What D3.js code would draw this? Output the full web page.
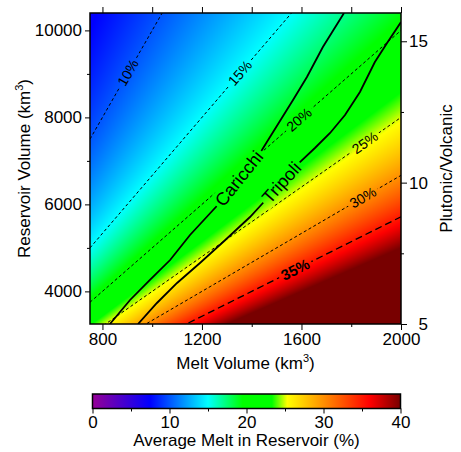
<!DOCTYPE html>
<html>
<head>
<meta charset="utf-8">
<script src="https://cdn.jsdelivr.net/npm/d3@7"></script>
<style>
  body { margin: 0; background: #fff; }
  text { font-family: "Liberation Sans", Arial, Helvetica, sans-serif; fill: #000; }
</style>
</head>
<body>
<div id="chart"></div>
<script>
// colour table for average melt in reservoir (%)
var colorStops = [0, 7.5, 15, 19.5, 23.3, 25.3, 36, 40];
var colorList = ["#960096", "#0000ff", "#00ffff", "#00ff00", "#00ff00", "#ffff00", "#ff0000", "#780000"];

// melt fraction contours and where their labels sit (melt volume)
var contourLevels = [10, 15, 20, 25, 30, 35];
var contourLabelMelt = [903, 1353, 1590, 1855, 1847, 1575];

// model paths: melt volume vs reservoir volume (km3)
var caricchiMelt = [830, 911, 991, 1072, 1152, 1256, 1441, 1566, 1622, 1686, 1771];
var caricchiRes  = [3250, 3802, 4262, 4721, 5296, 5940, 7250, 8400, 8929, 9618, 10400];
var tripoliMelt  = [943, 1019, 1100, 1192, 1285, 1393, 1445, 1594, 1654, 1715, 1775, 1835, 1895, 1944, 2000];
var tripoliRes   = [3250, 3733, 4193, 4652, 5135, 5710, 6032, 6974, 7296, 7641, 8055, 8584, 9273, 9710, 10193];
var caricchiLabelAt = 5;   // label sits on segment i -> i+1
var tripoliLabelAt = 6;

// ticks
var meltTicks = [800, 1200, 1600, 2000];
var meltMinor = [1000, 1400, 1800];
var meltTop = [800, 1000, 1200, 1400, 1600, 1800, 2000];
var resTicks = [4000, 6000, 8000, 10000];
var resMinor = [5000, 7000, 9000];
var ratioTicks = [5, 10, 15];
var ratioMinor = [7.5, 12.5];
var barTicks = [0, 10, 20, 30, 40];
var barMinor = [5, 15, 25, 35];

var margin = {top: 13, left: 90},
    width = 311,
    height = 311;

var svg = d3.select("#chart").append("svg")
    .attr("width", 461)
    .attr("height", 452);

var g = svg.append("g")
    .attr("transform", "translate(" + margin.left + "," + margin.top + ")");

var x = d3.scaleLinear().domain([750, 2000]).range([0, width]);
var y = d3.scaleLinear().domain([3250, 10400]).range([height, 0]);
var yr = d3.scaleLinear().domain([5, 16]).range([height, 0]);
var color = d3.scaleLinear().domain(colorStops).range(colorList).clamp(true);

// raster of average melt = melt / reservoir
var canvas = document.createElement("canvas");
canvas.width = width;
canvas.height = height;
var ctx = canvas.getContext("2d");
var img = ctx.createImageData(width, height);
for (var j = 0; j < height; j++) {
  for (var i = 0; i < width; i++) {
    var m = x.invert(i + 0.5), r = y.invert(j + 0.5);
    var c = d3.rgb(color(100 * m / r));
    var k = 4 * (j * width + i);
    img.data[k] = c.r; img.data[k + 1] = c.g; img.data[k + 2] = c.b; img.data[k + 3] = 255;
  }
}
ctx.putImageData(img, 0, 0);
g.append("image")
  .attr("width", width)
  .attr("height", height)
  .attr("preserveAspectRatio", "none")
  .attr("href", canvas.toDataURL());

var defs = svg.append("defs");
defs.append("clipPath").attr("id", "plotclip")
  .append("rect").attr("width", width).attr("height", height);
var mask = defs.append("mask").attr("id", "labmask")
  .attr("maskUnits", "userSpaceOnUse")
  .attr("x", -10).attr("y", -10).attr("width", width + 20).attr("height", height + 20);
mask.append("rect")
  .attr("x", -10).attr("y", -10).attr("width", width + 20).attr("height", height + 20)
  .attr("fill", "#fff");

var lines = g.append("g")
  .attr("clip-path", "url(#plotclip)")
  .append("g")
  .attr("mask", "url(#labmask)");
var labels = g.append("g");

function addLabel(txt, px, py, ang, size, weight) {
  var t = labels.append("text")
    .attr("transform", "translate(" + px + "," + py + ") rotate(" + ang + ")")
    .attr("text-anchor", "middle")
    .attr("dy", "0.35em")
    .style("font-size", size + "px")
    .style("font-weight", weight || "normal")
    .text(txt);
  var w = t.node().getComputedTextLength() + 6;
  mask.append("rect")
    .attr("x", -w / 2).attr("y", -size * 0.55)
    .attr("width", w).attr("height", size * 1.1)
    .attr("transform", "translate(" + px + "," + py + ") rotate(" + ang + ")")
    .attr("fill", "#000");
}

// contour lines
contourLevels.forEach(function (p, n) {
  var m0 = 750, m1 = 2000;
  var big = p === 35;
  lines.append("line")
    .attr("x1", x(m0)).attr("y1", y(m0 * 100 / p))
    .attr("x2", x(m1)).attr("y2", y(m1 * 100 / p))
    .attr("stroke", "#000")
    .attr("stroke-width", big ? 1.3 : 1)
    .attr("stroke-dasharray", big ? "7,4" : "3,2.5");
  var lm = contourLabelMelt[n];
  var ang = Math.atan2(y(2000 * 100 / p) - y(750 * 100 / p), x(2000) - x(750)) * 180 / Math.PI;
  addLabel(p + "%", x(lm), y(lm * 100 / p), ang, big ? 15 : 14, big ? "bold" : "normal");
});

// model curves
var line = d3.line()
  .x(function (d) { return x(d[0]); })
  .y(function (d) { return y(d[1]); });

function drawCurve(mv, rv, at, name) {
  var pts = mv.map(function (d, i) { return [d, rv[i]]; });
  lines.append("path")
    .datum(pts)
    .attr("d", line)
    .attr("fill", "none")
    .attr("stroke", "#000")
    .attr("stroke-width", 1.8);
  var a = pts[at], b = pts[at + 1];
  var px = (x(a[0]) + x(b[0])) / 2, py = (y(a[1]) + y(b[1])) / 2;
  var ang = Math.atan2(y(b[1]) - y(a[1]), x(b[0]) - x(a[0])) * 180 / Math.PI;
  addLabel(name, px, py, ang, 18);
}
drawCurve(caricchiMelt, caricchiRes, caricchiLabelAt, "Caricchi");
drawCurve(tripoliMelt, tripoliRes, tripoliLabelAt, "Tripoli");

// axes
function styleAxis(sel) {
  sel.select(".domain").remove();
  sel.selectAll("line").attr("stroke", "#000").attr("stroke-width", 1);
  sel.selectAll("text").style("font-size", "17px").attr("fill", "#000")
    .style("font-family", "'Liberation Sans', Arial, Helvetica, sans-serif");
}

g.append("g").attr("transform", "translate(0," + height + ")")
  .call(d3.axisBottom(x).tickValues(meltMinor).tickSize(3).tickFormat(""))
  .call(styleAxis);
g.append("g").attr("transform", "translate(0," + height + ")")
  .call(d3.axisBottom(x).tickValues(meltTicks).tickSize(6).tickPadding(3).tickFormat(d3.format("d")))
  .call(styleAxis);
g.append("g")
  .call(d3.axisTop(x).tickValues(meltTop).tickSize(6).tickFormat(""))
  .call(styleAxis);
g.append("g")
  .call(d3.axisLeft(y).tickValues(resMinor).tickSize(3).tickFormat(""))
  .call(styleAxis);
g.append("g")
  .call(d3.axisLeft(y).tickValues(resTicks).tickSize(5).tickPadding(3).tickFormat(d3.format("d")))
  .call(styleAxis);
g.append("g").attr("transform", "translate(" + width + ",0)")
  .call(d3.axisRight(yr).tickValues(ratioMinor).tickSize(3).tickFormat(""))
  .call(styleAxis);
var ra = g.append("g").attr("transform", "translate(" + width + ",0)")
  .call(d3.axisRight(yr).tickValues(ratioTicks).tickSize(6).tickFormat(d3.format("d")))
  .call(styleAxis);
ra.selectAll("text").attr("text-anchor", "end").attr("x", 27);

g.append("rect")
  .attr("width", width).attr("height", height)
  .attr("fill", "none").attr("stroke", "#000").attr("stroke-width", 1.5);

// axis titles
var xt = svg.append("text")
  .attr("x", margin.left + width / 2).attr("y", 369)
  .attr("text-anchor", "middle").style("font-size", "17px");
xt.append("tspan").text("Melt Volume (km");
xt.append("tspan").attr("dy", -7).style("font-size", "11px").text("3");
xt.append("tspan").attr("dy", 7).text(")");

var yt = svg.append("text")
  .attr("transform", "translate(29.5," + (margin.top + height / 2) + ") rotate(-90)")
  .attr("text-anchor", "middle").style("font-size", "17px");
yt.append("tspan").text("Reservoir Volume (km");
yt.append("tspan").attr("dy", -7).style("font-size", "11px").text("3");
yt.append("tspan").attr("dy", 7).text(")");

svg.append("text")
  .attr("transform", "translate(451.5," + (margin.top + height / 2) + ") rotate(-90)")
  .attr("text-anchor", "middle").style("font-size", "17px")
  .text("Plutonic/Volcanic");

// colour bar
var barW = 308, barH = 14.5;
var cb = svg.append("g").attr("transform", "translate(92.5,394)");
var cx = d3.scaleLinear().domain([0, 40]).range([0, barW]);
var grad = defs.append("linearGradient").attr("id", "cbar")
  .attr("x1", "0%").attr("x2", "100%").attr("y1", "0%").attr("y2", "0%");
colorStops.forEach(function (v, i) {
  grad.append("stop").attr("offset", (100 * v / 40) + "%").attr("stop-color", colorList[i]);
});
cb.append("rect")
  .attr("width", barW).attr("height", barH)
  .attr("fill", "url(#cbar)")
  .attr("stroke", "#000").attr("stroke-width", 1.5);
cb.append("g").attr("transform", "translate(0," + barH + ")")
  .call(d3.axisBottom(cx).tickValues(barMinor).tickSize(3).tickFormat(""))
  .call(styleAxis);
cb.append("g").attr("transform", "translate(0," + barH + ")")
  .call(d3.axisBottom(cx).tickValues(barTicks).tickSize(5).tickPadding(2.5).tickFormat(d3.format("d")))
  .call(styleAxis);
svg.append("text")
  .attr("x", 246.5).attr("y", 446)
  .attr("text-anchor", "middle").style("font-size", "17px")
  .text("Average Melt in Reservoir (%)");
</script>
</body>
</html>
